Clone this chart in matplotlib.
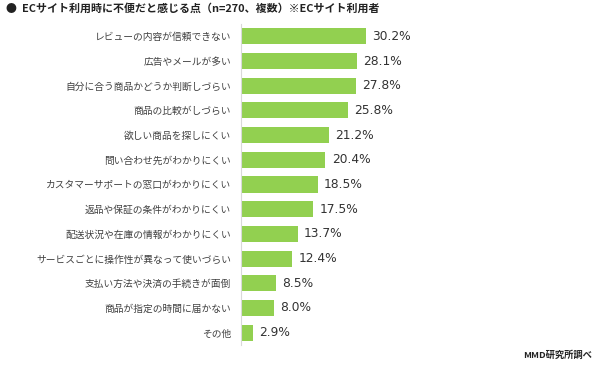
import matplotlib
matplotlib.use("Agg")
import matplotlib.pyplot as plt

plt.rcParams['font.family'] = ['Noto Sans CJK JP', 'DejaVu Sans']

categories = [
    "レビューの内容が信頼できない",
    "広告やメールが多い",
    "自分に合う商品かどうか判断しづらい",
    "商品の比較がしづらい",
    "欲しい商品を探しにくい",
    "問い合わせ先がわかりにくい",
    "カスタマーサポートの窓口がわかりにくい",
    "返品や保証の条件がわかりにくい",
    "配送状況や在庫の情報がわかりにくい",
    "サービスごとに操作性が異なって使いづらい",
    "支払い方法や決済の手続きが面倒",
    "商品が指定の時間に届かない",
    "その他",
]
values = [30.2, 28.1, 27.8, 25.8, 21.2, 20.4, 18.5, 17.5, 13.7, 12.4, 8.5, 8.0, 2.9]
title = "●  ECサイト利用時に不便だと感じる点（n=270、複数）※ECサイト利用者"
source = "MMD研究所調べ"

fig = plt.figure(figsize=(6.0, 3.68), dpi=100)
ax = fig.add_axes([241/600, 23/368, 331/600, 321/368])

ypos = list(range(len(categories)))
ax.barh(ypos, values, height=0.65, color="#92D050", zorder=2)
ax.set_ylim(len(categories) - 0.5, -0.5)
ax.set_xlim(0, 80)

for y, v in zip(ypos, values):
    ax.annotate(f"{v:.1f}%", xy=(v, y), xytext=(4.5, 0), textcoords="offset points",
                va="center", ha="left", fontsize=8.8, color="#333333",
                family="DejaVu Sans")

ax.set_yticks(ypos)
ax.set_yticklabels(categories, fontsize=7.0, color="#404040")
ax.tick_params(axis="y", length=0, pad=7)
ax.set_xticks([])
for s in ["top", "right", "bottom"]:
    ax.spines[s].set_visible(False)
ax.spines["left"].set_color("#d9d9d9")
ax.spines["left"].set_linewidth(0.8)

fig.text(6/600, 1 - 8/368, title, fontsize=7.9, fontweight="bold", color="#222222",
         va="center", ha="left")
fig.text(592/600, 1 - 355/368, source, fontsize=6.7, fontweight="bold", color="#222222",
         va="center", ha="right")

fig.savefig("out.png", dpi=100)
